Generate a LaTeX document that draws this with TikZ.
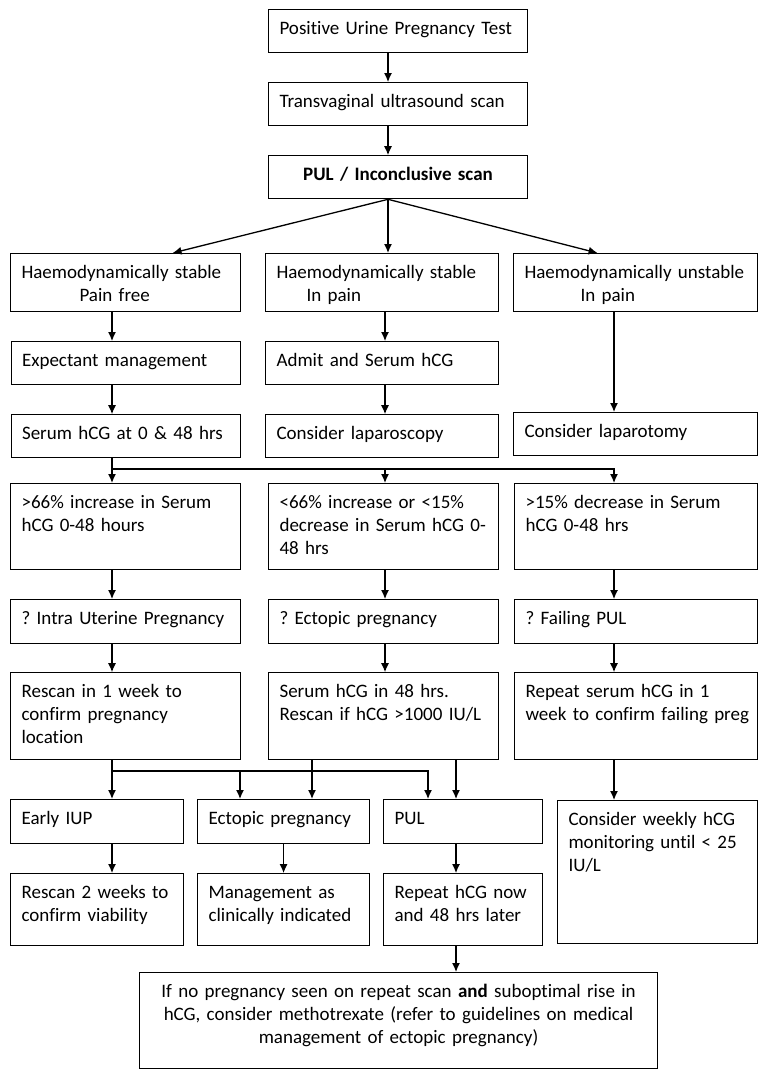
\documentclass[tikz,border=0pt]{standalone}
\usepackage{fontspec}
\setmainfont{Carlito}[Ligatures=NoCommon]
\usetikzlibrary{positioning,arrows.meta}
\frenchspacing

\begin{document}
\begin{tikzpicture}[x=1pt, y=-1pt]
    \tikzstyle{box} = [rectangle, draw, line width=1.1pt, anchor=north west, align=left, inner xsep=11pt, inner ysep=11pt, text height=14pt, font=\fontsize{19pt}{23pt}\selectfont]
    \tikzstyle{link} = [line width=1.3pt, -{Latex[length=9pt, width=8pt]}]
    \useasboundingbox (0,0) rectangle (766,1073);

    % x positions of the connectors
    \coordinate (cT) at (388,0);
    \coordinate (cL) at (112,0);
    \coordinate (cM) at (385,0);
    \coordinate (cR) at (614,0);
    \coordinate (cE) at (240,0);
    \coordinate (cS) at (312,0);
    \coordinate (cP) at (428,0);
    \coordinate (cQ) at (456,0);

    % Top of the chart
    \node[box, text width=237pt, text depth=7pt] (upt) at (268,9) {\mbox{Positive Urine Pregnancy Test}};
    \node[box, text width=237pt, text depth=7pt, below=29pt of upt] (tvs) {Transvaginal ultrasound scan};
    \node[box, text width=237pt, text depth=7pt, align=center, below=29pt of tvs] (pul) {\textbf{PUL / Inconclusive scan}};

    % Clinical state
    \node[box, text width=208pt, text depth=22pt] (stab) at (10,253) {Haemodynamically stable\\\hspace*{58pt}Pain free};
    \node[box, text width=211pt, text depth=22pt] (pain) at (265,253) {Haemodynamically stable\\\hspace*{30pt}In pain};
    \node[box, text width=222pt, text depth=22pt] (unst) at (513,253) {\mbox{Haemodynamically unstable}\\\hspace*{56pt}In pain};

    \node[box, text width=207pt, text depth=7pt, below=29pt of stab] (expm) {Expectant management};
    \node[box, text width=207pt, text depth=7pt, below=29pt of expm] (serum) {Serum hCG at 0 \& 48 hrs};
    \node[box, text width=211pt, text depth=7pt, below=29pt of pain] (admit) {Admit and Serum hCG};
    \node[box, text width=211pt, text depth=7pt, below=29pt of admit] (lapsc) {Consider laparoscopy};
    \node[box, text width=222pt, text depth=7pt] (lapto) at (513,412) {Consider laparotomy};

    % hCG change over 48 hrs
    \node[box, text width=208pt, text depth=50pt] (rise) at (10,483) {>66\% increase in Serum\\hCG 0-48 hours};
    \node[box, text width=208pt, text depth=50pt] (plat) at (268,483) {<66\% increase or <15\%\\\mbox{decrease in Serum hCG 0-}\\48 hrs};
    \node[box, text width=221pt, text depth=50pt] (fall) at (514,483) {>15\% decrease in Serum\\hCG 0-48 hrs};

    \node[box, text width=208pt, text depth=8pt, below=29pt of rise] (qiup) {? Intra Uterine Pregnancy};
    \node[box, text width=208pt, text depth=8pt, below=29pt of plat] (qect) {? Ectopic pregnancy};
    \node[box, text width=221pt, text depth=8pt, below=29pt of fall] (qfail) {? Failing PUL};

    \node[box, text width=208pt, text depth=51pt, below=28pt of qiup] (resc) {Rescan in 1 week to\\confirm pregnancy\\location};
    \node[box, text width=208pt, text depth=51pt, below=28pt of qect] (shcg) {Serum hCG in 48 hrs.\\\mbox{Rescan if hCG >1000 IU/L}};
    \node[box, text width=221pt, text depth=51pt, below=28pt of qfail] (rep) {Repeat serum hCG in 1\\\mbox{week to confirm failing preg}};

    % Outcomes
    \node[box, text width=151pt, text depth=8pt] (eiup) at (10,799) {Early IUP};
    \node[box, text width=150pt, text depth=8pt] (ect) at (197,799) {Ectopic pregnancy};
    \node[box, text width=137pt, text depth=8pt] (pul2) at (383,799) {PUL};
    \node[box, text width=178pt, text depth=107pt] (wkly) at (557,800) {Consider weekly hCG\\\mbox{monitoring until < 25}\\IU/L};

    \node[box, text width=151pt, text depth=36pt, below=29pt of eiup] (viab) {\mbox{Rescan 2 weeks to}\\confirm viability};
    \node[box, text width=150pt, text depth=36pt, below=29pt of ect] (mgmt) {Management as\\\mbox{clinically indicated}};
    \node[box, text width=137pt, text depth=36pt, below=29pt of pul2] (rhcg) {\mbox{Repeat hCG now}\\and 48 hrs later};

    \node[box, text width=496pt, text depth=60pt, align=center] (mtx) at (139,972) {If no pregnancy seen on repeat scan \textbf{and} suboptimal rise in\\hCG, consider methotrexate (refer to guidelines on medical\\management of ectopic pregnancy)};

    % Connectors
    \draw[link] (upt.south -| cT) -- (tvs.north -| cT);
    \draw[link] (tvs.south -| cT) -- (pul.north -| cT);
    \draw[link] (pul.south -| cT) -- ([xshift=47pt]stab.north);
    \draw[link] (pul.south -| cT) -- (pain.north -| cT);
    \draw[link] (pul.south -| cT) -- ([xshift=-38pt]unst.north);

    \draw[link] (stab.south -| cL) -- (expm.north -| cL);
    \draw[link] (expm.south -| cL) -- (serum.north -| cL);
    \draw[link] (pain.south -| cM) -- (admit.north -| cM);
    \draw[link] (admit.south -| cM) -- (lapsc.north -| cM);
    \draw[link] (unst.south -| cR) -- (lapto.north -| cR);

    \coordinate (split1) at (112,469);
    \draw[link] (serum.south -| cL) -- (rise.north -| cL);
    \draw[link] (split1) -| (plat.north -| cM);
    \draw[link] (split1) -| (fall.north -| cR);

    \draw[link] (rise.south -| cL) -- (qiup.north -| cL);
    \draw[link] (plat.south -| cM) -- (qect.north -| cM);
    \draw[link] (fall.south -| cR) -- (qfail.north -| cR);
    \draw[link] (qiup.south -| cL) -- (resc.north -| cL);
    \draw[link] (qect.south -| cM) -- (shcg.north -| cM);
    \draw[link] (qfail.south -| cR) -- (rep.north -| cR);

    \coordinate (split2) at (112,771);
    \draw[link] (resc.south -| cL) -- (eiup.north -| cL);
    \draw[link] (split2) -| (ect.north -| cE);
    \draw[link] (split2) -| (pul2.north -| cP);
    \draw[link] (shcg.south -| cS) -- (ect.north -| cS);
    \draw[link] (shcg.south -| cQ) -- (pul2.north -| cQ);
    \draw[link] (rep.south -| cR) -- (wkly.north -| cR);

    \draw[link] (eiup.south -| cL) -- (viab.north -| cL);
    \draw[link] (ect.south) -- (mgmt.north);
    \draw[link] (pul2.south -| cQ) -- (rhcg.north -| cQ);
    \draw[link] (rhcg.south -| cQ) -- (mtx.north -| cQ);

\end{tikzpicture}
\end{document}
